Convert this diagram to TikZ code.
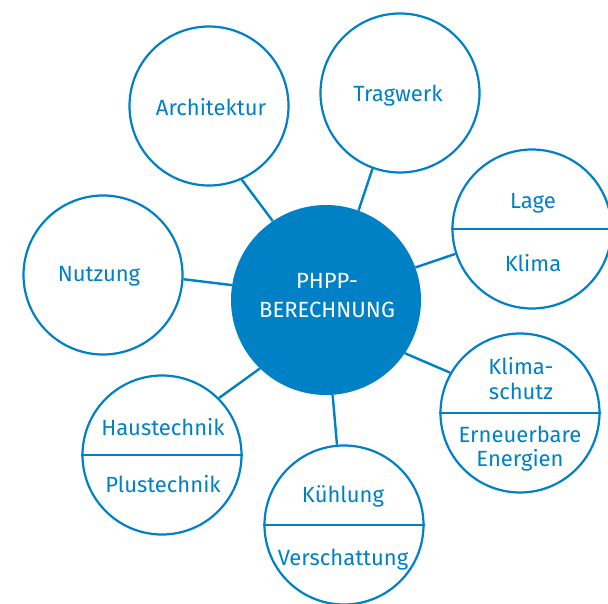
\documentclass[tikz,border=0pt]{standalone}
\usepackage{fontspec}
\setmainfont{Fira Sans}
\definecolor{phppblue}{RGB}{0,129,198}
\begin{document}
\begin{tikzpicture}[x=1pt,y=-1pt,
  bubble/.style={circle,draw=phppblue,line width=2.2pt,minimum size=159pt,inner sep=0pt,fill=white},
  hub/.style={circle,fill=phppblue,minimum size=190pt,inner sep=0pt},
  lbl/.style={anchor=base,text=phppblue,font=\fontsize{22}{26}\selectfont,inner sep=0pt},
  hlbl/.style={anchor=base,text=white,font=\fontsize{22}{26}\selectfont,inner sep=0pt},
  link/.style={draw=phppblue,line width=2.4pt},
  divider/.style={draw=phppblue,line width=2.2pt}]
\path[use as bounding box,clip] (0,0) rectangle (608,604);
\fill[white] (0,0) rectangle (608,604);
% circles
\node[hub] (hub) at (326,300) {};
\node[bubble] (arch) at (209,106) {};
\node[bubble] (trag) at (400,93) {};
\node[bubble] (lage) at (532,229) {};
\node[bubble] (nutz) at (103,275) {};
\node[bubble] (haus) at (162,455) {};
\node[bubble] (klsch) at (520,413) {};
\node[bubble] (kuehl) at (344,525) {};
% connectors
\draw[link] (hub.124) -- (arch.-66);
\draw[link] (hub.70) -- (trag.-110);
\draw[link] (hub.20) -- (lage.198);
\draw[link] (hub.171.5) -- (nutz.-3);
\draw[link] (hub.226) -- (haus.45.5);
\draw[link] (hub.-34) -- (klsch.150.6);
\draw[link] (hub.-86.4) -- (kuehl.95);
% dividers
\coordinate (lageR) at (620,229);
\draw[divider] (lage.west) -- (lageR);
\draw[divider] (haus.west) -- (haus.east);
\draw[divider] (klsch.west) -- (klsch.east);
\draw[divider] (kuehl.west) -- (kuehl.east);
% labels
\node[hlbl] (t1) at (327,289) {PHPP-};
\node[hlbl] (t2) at (327,317) {BERECHNUNG};
\node[lbl] (t3) at (211,116) {Architektur};
\node[lbl] (t4) at (398,102) {Tragwerk};
\node[lbl] (t5) at (533,209) {Lage};
\node[lbl] (t6) at (533,272) {Klima};
\node[lbl] (t7) at (99,282) {Nutzung};
\node[lbl] (t8) at (163,435) {Haustechnik};
\node[lbl] (t9) at (163,492) {Plustechnik};
\node[lbl] (t10) at (521,374) {Klima-};
\node[lbl] (t11) at (521,399) {schutz};
\node[lbl] (t12) at (520,442) {Erneuerbare};
\node[lbl] (t13) at (520,466) {Energien};
\node[lbl] (t14) at (343,502) {Kühlung};
\node[lbl] (t15) at (343,565) {Verschattung};
\end{tikzpicture}
\end{document}
